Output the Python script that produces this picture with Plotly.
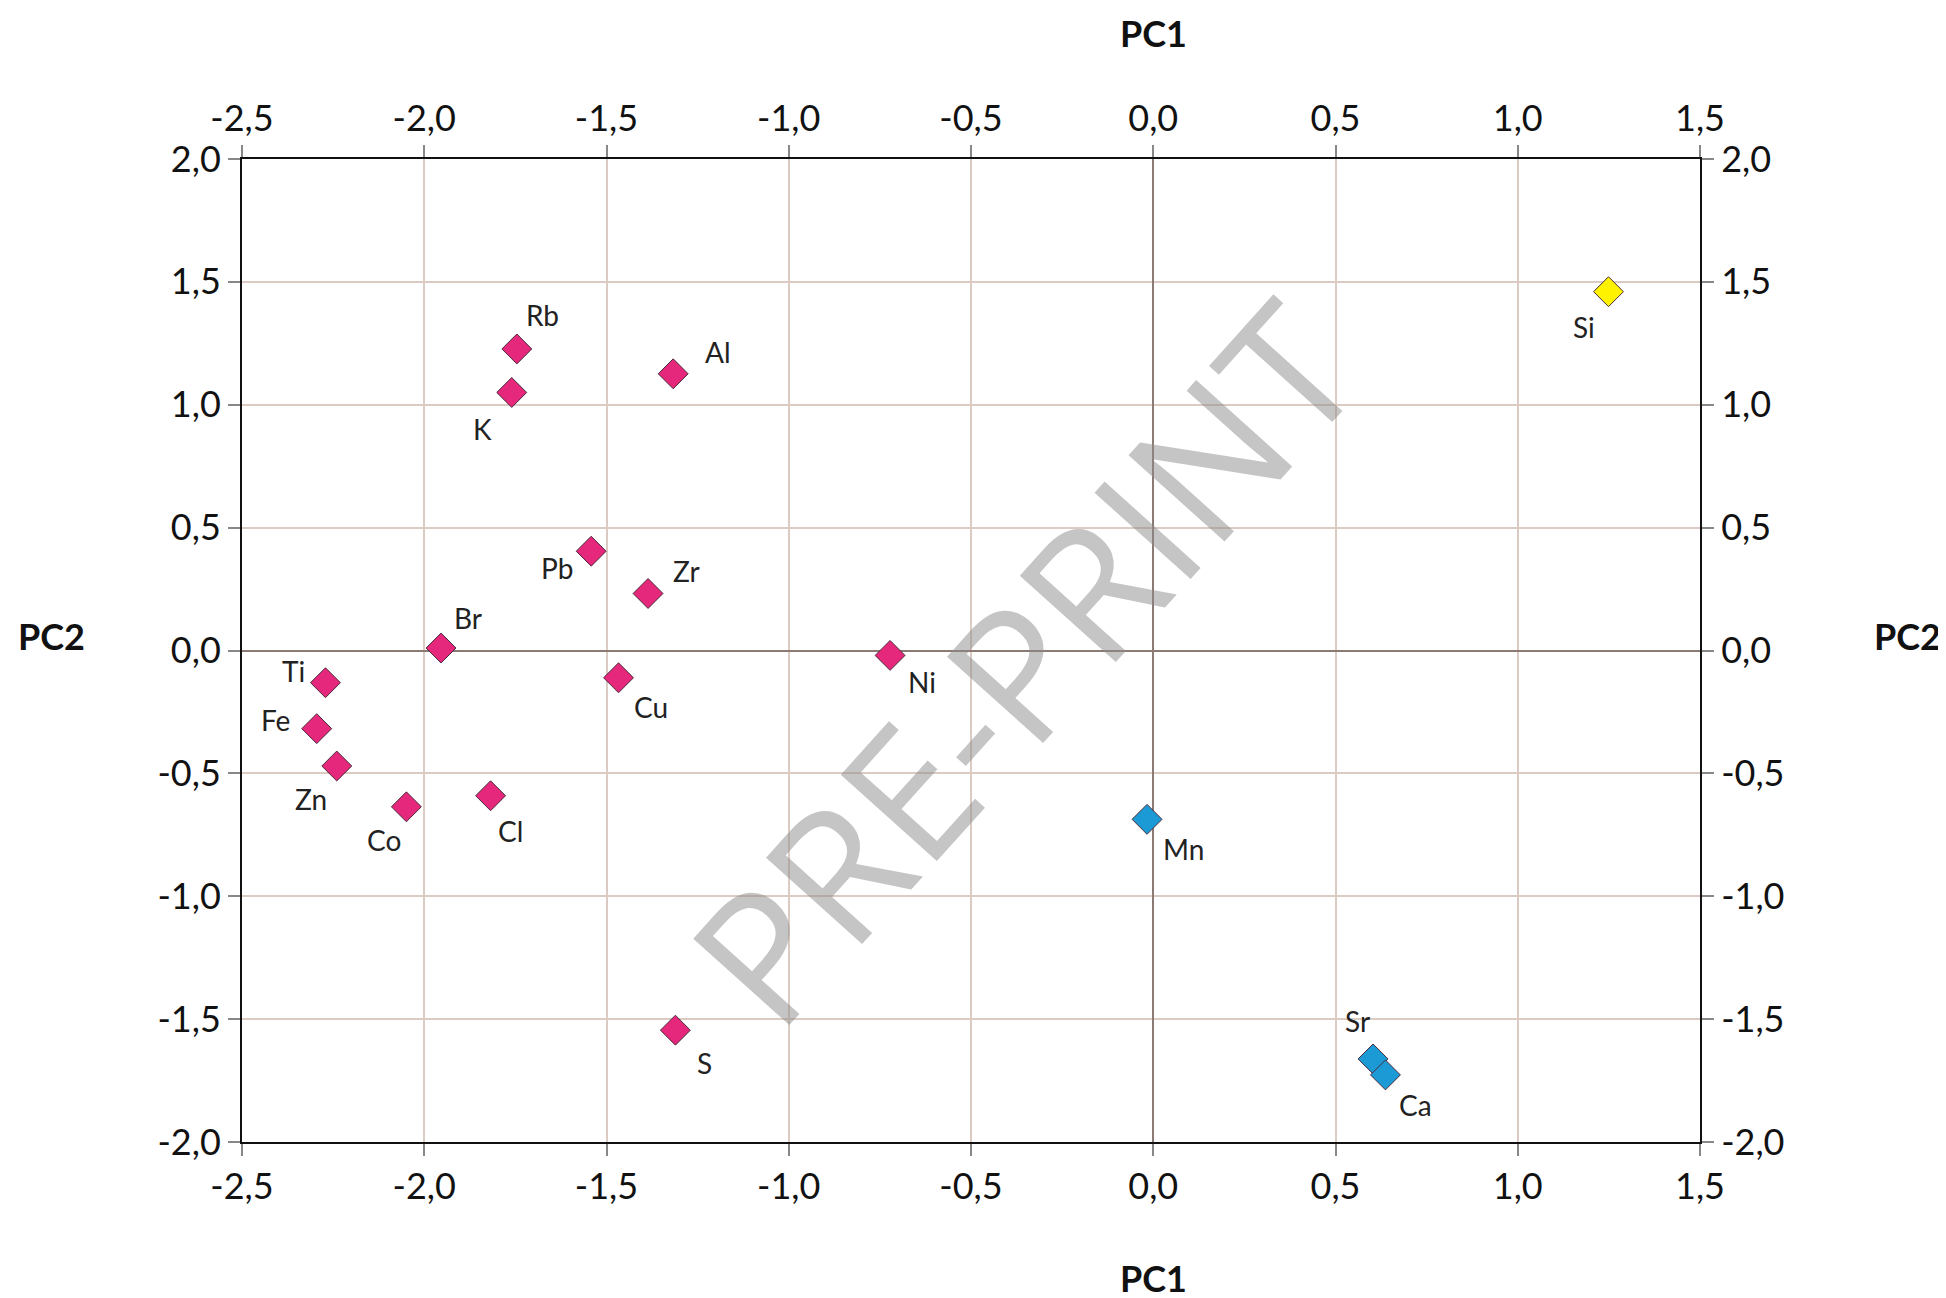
import plotly.graph_objects as go

# ---- data ----
pink_names = ["Rb", "K", "Al", "Pb", "Zr", "Br", "Cu", "Ni", "Ti", "Fe", "Zn", "Co", "Cl", "S"]
pink_pc1 = [-1.746, -1.760, -1.317, -1.542, -1.386, -1.954, -1.467, -0.722, -2.271, -2.295, -2.240, -2.049, -1.818, -1.311]
pink_pc2 = [1.227, 1.050, 1.126, 0.404, 0.232, 0.010, -0.111, -0.020, -0.131, -0.318, -0.470, -0.636, -0.591, -1.545]

blue_names = ["Mn", "Sr", "Ca"]
blue_pc1 = [-0.017, 0.603, 0.637]
blue_pc2 = [-0.687, -1.662, -1.727]

yellow_names = ["Si"]
yellow_pc1 = [1.249]
yellow_pc2 = [1.460]

x_tickvals = [-2.5, -2.0, -1.5, -1.0, -0.5, 0.0, 0.5, 1.0, 1.5]
x_ticktext = ["-2,5", "-2,0", "-1,5", "-1,0", "-0,5", "0,0", "0,5", "1,0", "1,5"]
y_tickvals = [-2.0, -1.5, -1.0, -0.5, 0.0, 0.5, 1.0, 1.5, 2.0]
y_ticktext = ["-2,0", "-1,5", "-1,0", "-0,5", "0,0", "0,5", "1,0", "1,5", "2,0"]

# label offsets in pixels (layout only)
label_shift = {
    "Rb": (26, 34), "K": (-29, -37), "Al": (45, 22), "Pb": (-34, -17), "Zr": (38, 22),
    "Br": (27, 30), "Cu": (32, -29), "Ni": (32, -27), "Ti": (-32, 12), "Fe": (-41, 9),
    "Zn": (-26, -33), "Co": (-22, -33), "Cl": (20, -35), "S": (29, -33),
    "Mn": (36, -30), "Sr": (-16, 38), "Ca": (30, -30), "Si": (-25, -35),
}

FONT = "Lato, Roboto, Arial, sans-serif"

fig = go.Figure()

def add_group(xs, ys, color):
    fig.add_trace(go.Scatter(
        x=xs, y=ys, mode="markers",
        marker=dict(symbol="diamond", size=23, color=color,
                    line=dict(color="#4a2a3a", width=1)),
        showlegend=False, hoverinfo="skip"))

add_group(pink_pc1, pink_pc2, "#E6287C")
add_group(blue_pc1, blue_pc2, "#1C9AD6")
add_group(yellow_pc1, yellow_pc2, "#FFF200")

# dummy trace to activate secondary axes
fig.add_trace(go.Scatter(x=[None], y=[None], xaxis="x2", yaxis="y2", showlegend=False))

annotations = []
for names, xs, ys in [(pink_names, pink_pc1, pink_pc2), (blue_names, blue_pc1, blue_pc2),
                      (yellow_names, yellow_pc1, yellow_pc2)]:
    for n, xv, yv in zip(names, xs, ys):
        dx, dy = label_shift[n]
        annotations.append(dict(x=xv, y=yv, xref="x", yref="y", text=n, showarrow=False,
                                xshift=dx, yshift=dy, xanchor="center", yanchor="middle",
                                font=dict(family=FONT, size=28, color="#222222")))

title_font = dict(family=FONT, size=36, color="#111111")
ctr = dict(xref="paper", yref="paper", showarrow=False, xanchor="center", yanchor="middle")
annotations += [
    dict(text="<b>PC1</b>", x=0.625, y=1.128, font=title_font, **ctr),
    dict(text="<b>PC1</b>", x=0.625, y=-0.138, font=title_font, **ctr),
    dict(text="<b>PC2</b>", x=-0.131, y=0.515, font=title_font, **ctr),
    dict(text="<b>PC2</b>", x=1.142, y=0.515, font=title_font, **ctr),
    dict(text="PRE-PRINT", x=0.535, y=0.488, textangle=-48,
         font=dict(family="Open Sans, Arial, sans-serif", size=181, color="rgba(140,140,140,0.5)"),
         **ctr),
]

tick_font = dict(family=FONT, size=36, color="#111111")
common_x = dict(range=[-2.5, 1.5], tickvals=x_tickvals, ticktext=x_ticktext,
                gridcolor="#DCCBC3", gridwidth=2,
                ticks="outside", ticklen=12, tickwidth=2, tickcolor="#888888",
                showline=True, linecolor="#111111", linewidth=2,
                tickfont=tick_font, fixedrange=True)
common_y = dict(range=[-2.0, 2.0], tickvals=y_tickvals, ticktext=y_ticktext,
                gridcolor="#DCCBC3", gridwidth=2,
                ticks="outside", ticklen=12, tickwidth=2, tickcolor="#888888",
                showline=True, linecolor="#111111", linewidth=2,
                tickfont=tick_font, fixedrange=True)

fig.update_layout(
    width=1946, height=1298,
    margin=dict(l=234, r=254, t=151, b=164, autoexpand=False),
    paper_bgcolor="white", plot_bgcolor="white",
    xaxis=dict(**common_x, side="bottom", showgrid=True, zeroline=True, zerolinecolor="#8C7B74", zerolinewidth=2),
    xaxis2=dict(**common_x, side="top", overlaying="x", matches="x", anchor="y", showgrid=False, zeroline=False),
    yaxis=dict(**common_y, side="left", showgrid=True, zeroline=True, zerolinecolor="#8C7B74", zerolinewidth=2),
    yaxis2=dict(**common_y, side="right", overlaying="y", matches="y", anchor="x", showgrid=False, zeroline=False),
    annotations=annotations,
)

fig.write_html("out.html")
